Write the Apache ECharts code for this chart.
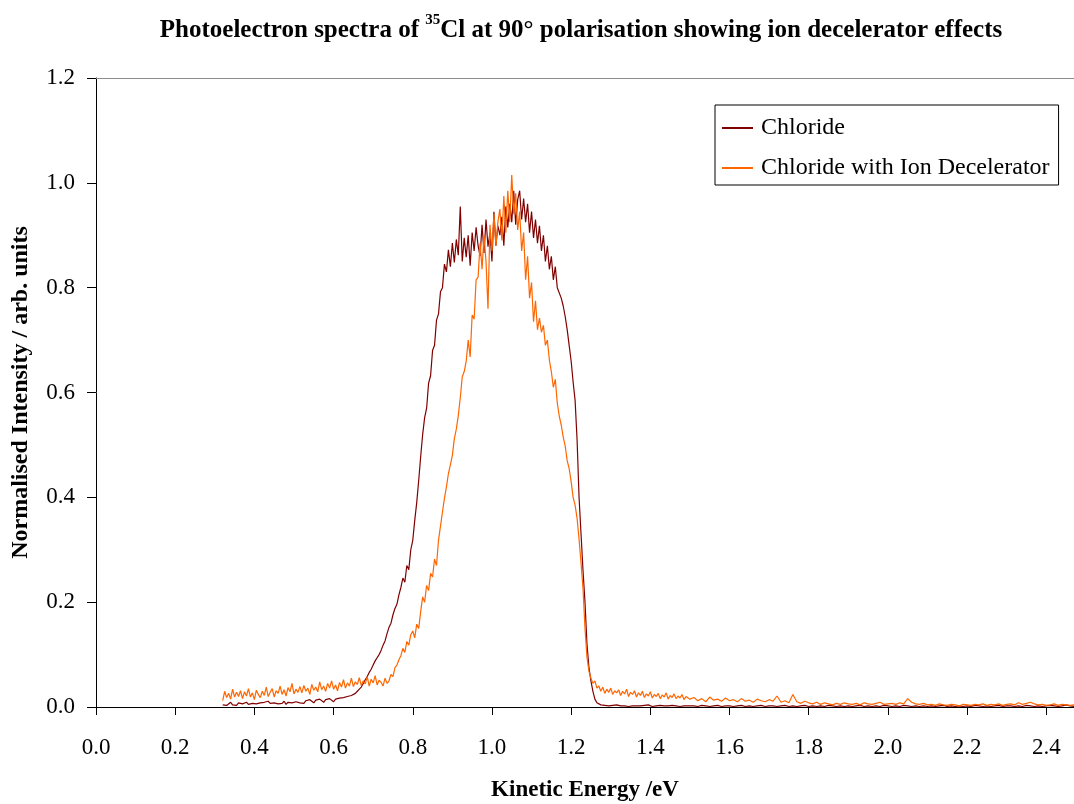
<!DOCTYPE html>
<html>
<head>
<meta charset="utf-8">
<script src="https://cdn.jsdelivr.net/npm/echarts@6/dist/echarts.min.js"></script>
<style>
html,body{margin:0;padding:0;background:#fff;}
#chart{width:1074px;height:804px;}
</style>
</head>
<body>
<div id="chart"></div>
<script>
// Energy sampling (eV): dense part 0.320..1.500 step 0.005, tail 1.51..2.47 step 0.01
const denseStart = 0.32, denseStep = 0.005;
const tailStart = 1.51, tailStep = 0.01;

const seriesNames = ['Chloride', 'Chloride with Ion Decelerator'];

const chlorideDense = [
0.004,0.007,0.003,0.006,0.009,0.004,0.006,0.003,0.008,0.005,
0.006,0.004,0.009,0.005,0.003,0.007,0.010,0.006,0.004,0.008,
0.005,0.009,0.006,0.011,0.007,0.004,0.008,0.010,0.006,0.009,
0.007,0.011,0.005,0.009,0.012,0.008,0.006,0.010,0.013,0.008,
0.010,0.007,0.012,0.009,0.014,0.011,0.008,0.013,0.010,0.015,
0.012,0.009,0.014,0.011,0.016,0.013,0.010,0.015,0.012,0.017,
0.014,0.018,0.015,0.020,0.017,0.022,0.019,0.026,0.030,0.034,
0.038,0.045,0.052,0.058,0.066,0.072,0.080,0.088,0.094,0.100,
0.108,0.118,0.126,0.140,0.152,0.160,0.176,0.188,0.196,0.214,
0.228,0.246,0.238,0.270,0.262,0.300,0.318,0.356,0.390,0.432,
0.478,0.520,0.552,0.570,0.618,0.632,0.680,0.690,0.738,0.750,
0.792,0.800,0.845,0.830,0.872,0.840,0.885,0.848,0.892,0.862,
0.955,0.850,0.895,0.858,0.900,0.842,0.905,0.870,0.915,0.880,
0.860,0.920,0.866,0.930,0.878,0.905,0.850,0.945,0.880,0.918,
0.900,0.935,0.880,0.955,0.915,0.960,0.925,0.985,0.920,0.968,
0.985,0.930,0.970,0.925,0.960,0.905,0.945,0.895,0.930,0.885,
0.918,0.870,0.900,0.850,0.880,0.835,0.860,0.815,0.840,0.800,
0.800,0.780,0.765,0.745,0.720,0.690,0.660,0.620,0.585,0.510,
0.400,0.330,0.260,0.200,0.120,0.075,0.050,0.030,0.015,0.008,
0.006,0.004,0.005,0.003,0.004,0.002,0.004,0.003,0.002,0.004,
0.003,0.002,0.004,0.002,0.003,0.001,0.003,0.002,0.004,0.002,
0.003,0.002,0.001,0.003,0.002,0.004,0.002,0.001,0.003,0.002,
0.002,0.003,0.001,0.002,0.003,0.002,0.001,0.003,0.002,0.002,
0.003,0.001,0.002,0.002,0.003,0.002,0.001
];

const chlorideTail = [
0.002,0.001,0.003,0.002,0.001,0.002,0.003,0.001,0.002,0.002,
0.001,0.002,0.003,0.001,0.002,0.001,0.002,0.003,0.001,0.002,
0.002,0.001,0.002,0.003,0.001,0.002,0.001,0.002,0.003,0.001,
0.002,0.001,0.002,0.001,0.003,0.002,0.001,0.002,0.001,0.002,
0.001,0.002,0.003,0.001,0.002,0.001,0.002,0.001,0.003,0.002,
0.001,0.002,0.001,0.003,0.002,0.001,0.002,0.001,0.002,0.001,
0.002,0.001,0.002,0.003,0.001,0.002,0.001,0.002,0.001,0.002,
0.001,0.003,0.002,0.001,0.002,0.001,0.002,0.003,0.001,0.002,
0.002,0.001,0.002,0.001,0.003,0.002,0.001,0.002,0.001,0.002,
0.003,0.002,0.001,0.002,0.004,0.002,0.001
];

const deceleratorDense = [
0.012,0.030,0.018,0.026,0.015,0.034,0.019,0.028,0.020,0.031,
0.016,0.029,0.021,0.035,0.019,0.027,0.014,0.032,0.024,0.018,
0.030,0.022,0.038,0.020,0.028,0.035,0.019,0.031,0.026,0.040,
0.024,0.033,0.021,0.037,0.029,0.045,0.025,0.034,0.028,0.039,
0.027,0.041,0.030,0.036,0.024,0.043,0.032,0.038,0.029,0.048,
0.033,0.040,0.030,0.045,0.036,0.050,0.034,0.042,0.031,0.047,
0.038,0.052,0.036,0.046,0.040,0.055,0.039,0.048,0.043,0.056,
0.041,0.050,0.044,0.058,0.040,0.053,0.046,0.060,0.042,0.051,
0.047,0.040,0.055,0.045,0.050,0.062,0.058,0.075,0.080,0.090,
0.098,0.112,0.104,0.125,0.118,0.138,0.145,0.132,0.158,0.150,
0.182,0.210,0.200,0.232,0.222,0.255,0.248,0.282,0.270,0.318,
0.345,0.372,0.398,0.420,0.445,0.462,0.480,0.512,0.530,0.556,
0.590,0.630,0.640,0.660,0.700,0.668,0.748,0.740,0.815,0.820,
0.885,0.835,0.900,0.850,0.760,0.920,0.870,0.940,0.880,0.925,
0.950,0.890,0.975,0.905,0.985,0.925,1.015,0.940,0.980,0.910,
0.945,0.870,0.905,0.815,0.860,0.780,0.810,0.735,0.775,0.720,
0.742,0.715,0.728,0.690,0.700,0.662,0.640,0.610,0.625,0.580,
0.555,0.538,0.515,0.498,0.470,0.455,0.430,0.400,0.385,0.360,
0.320,0.275,0.225,0.150,0.095,0.068,0.055,0.045,0.050,0.036,
0.040,0.030,0.038,0.026,0.034,0.028,0.036,0.024,0.031,0.027,
0.033,0.022,0.030,0.025,0.034,0.020,0.028,0.024,0.031,0.019,
0.027,0.022,0.030,0.018,0.025,0.021,0.029,0.017,0.024,0.020,
0.026,0.016,0.023,0.019,0.027,0.015,0.022,0.018,0.025,0.016,
0.021,0.017,0.024,0.014,0.020,0.018,0.015
];

const deceleratorTail = [
0.018,0.012,0.016,0.010,0.019,0.013,0.015,0.011,0.017,0.012,
0.014,0.010,0.016,0.011,0.013,0.009,0.015,0.012,0.010,0.014,
0.011,0.021,0.009,0.012,0.008,0.024,0.010,0.007,0.011,0.008,
0.006,0.009,0.005,0.008,0.006,0.004,0.007,0.005,0.008,0.006,
0.005,0.007,0.004,0.008,0.006,0.005,0.007,0.009,0.005,0.006,
0.007,0.005,0.008,0.006,0.016,0.009,0.006,0.005,0.007,0.004,
0.005,0.003,0.006,0.004,0.003,0.005,0.004,0.002,0.005,0.004,
0.003,0.005,0.004,0.006,0.003,0.005,0.004,0.006,0.003,0.005,
0.006,0.004,0.008,0.005,0.007,0.009,0.006,0.004,0.005,0.003,
0.004,0.006,0.003,0.005,0.004,0.003,0.004
];

const xMin = 0, xMax = 2.47, xInterval = 0.2;
const yMin = 0, yMax = 1.2, yInterval = 0.2;

function buildPairs(dense, tail) {
  const out = [];
  dense.forEach((v, i) => out.push([Math.round((denseStart + i * denseStep) * 1000) / 1000, v]));
  tail.forEach((v, i) => out.push([Math.round((tailStart + i * tailStep) * 1000) / 1000, v]));
  return out;
}

const SERIF = "'Liberation Serif', 'Times New Roman', serif";
const chart = echarts.init(document.getElementById('chart'), null, {renderer: 'canvas'});

chart.setOption({
  animation: false,
  backgroundColor: '#ffffff',
  title: {
    text: '{t|Photoelectron spectra of }{s|35}{t|Cl at 90° polarisation showing ion decelerator effects}',
    left: 576,
    top: 8,
    textAlign: 'center',
    textStyle: {
      rich: {
        t: {fontFamily: SERIF, fontWeight: 'bold', fontSize: 25, color: '#000', lineHeight: 30, verticalAlign: 'bottom'},
        s: {fontFamily: SERIF, fontWeight: 'bold', fontSize: 15, color: '#000', lineHeight: 30, verticalAlign: 'top', padding: [0,0,14,0]}
      }
    }
  },
  legend: {
    orient: 'vertical',
    left: 715,
    top: 105,
    icon: 'rect',
    itemWidth: 31,
    itemHeight: 2,
    itemGap: 16,
    padding: [11, 9, 5, 7],
    borderColor: '#000',
    borderWidth: 1,
    backgroundColor: '#fff',
    textStyle: {fontFamily: SERIF, fontSize: 24, color: '#000', lineHeight: 22, padding: [0,0,0,3]},
    data: seriesNames
  },
  grid: {left: 96, right: 0, top: 78, bottom: 97, containLabel: false, outerBoundsMode: 'none'},
  xAxis: [{
    type: 'value',
    min: xMin, max: xMax, interval: xInterval,
    name: 'Kinetic Energy /eV',
    nameLocation: 'middle',
    nameGap: 72,
    nameTextStyle: {fontFamily: SERIF, fontWeight: 'bold', fontSize: 23, color: '#000'},
    axisLine: {lineStyle: {color: '#000', width: 1}},
    axisTick: {inside: false, length: 8, lineStyle: {color: '#000'}},
    axisLabel: {fontFamily: SERIF, fontSize: 23, color: '#000', margin: 29, showMaxLabel: false,
      formatter: v => v.toFixed(1)},
    splitLine: {show: false}
  }, {
    type: 'value', position: 'top',
    min: xMin, max: xMax, interval: xInterval,
    axisLine: {lineStyle: {color: '#8c8c8c', width: 1}},
    axisTick: {show: false}, axisLabel: {show: false}, splitLine: {show: false}
  }],
  yAxis: {
    type: 'value',
    min: yMin, max: yMax, interval: yInterval,
    name: 'Normalised Intensity / arb. units',
    nameLocation: 'middle',
    nameGap: 63,
    nameRotate: 90,
    nameTextStyle: {fontFamily: SERIF, fontWeight: 'bold', fontSize: 24, color: '#000'},
    axisLine: {show: true, lineStyle: {color: '#000', width: 1}},
    axisTick: {show: true, inside: false, length: 9, lineStyle: {color: '#000'}},
    axisLabel: {fontFamily: SERIF, fontSize: 23, color: '#000', margin: 21,
      formatter: v => v.toFixed(1)},
    splitLine: {show: false}
  },
  series: [{
    name: seriesNames[0],
    type: 'line',
    data: buildPairs(chlorideDense, chlorideTail),
    showSymbol: false, symbol: 'none',
    lineStyle: {color: '#800000', width: 1.2},
    itemStyle: {color: '#800000'},
    z: 2
  }, {
    name: seriesNames[1],
    type: 'line',
    data: buildPairs(deceleratorDense, deceleratorTail),
    showSymbol: false, symbol: 'none',
    lineStyle: {color: '#FF6600', width: 1.2},
    itemStyle: {color: '#FF6600'},
    z: 3
  }]
});
</script>
</body>
</html>
